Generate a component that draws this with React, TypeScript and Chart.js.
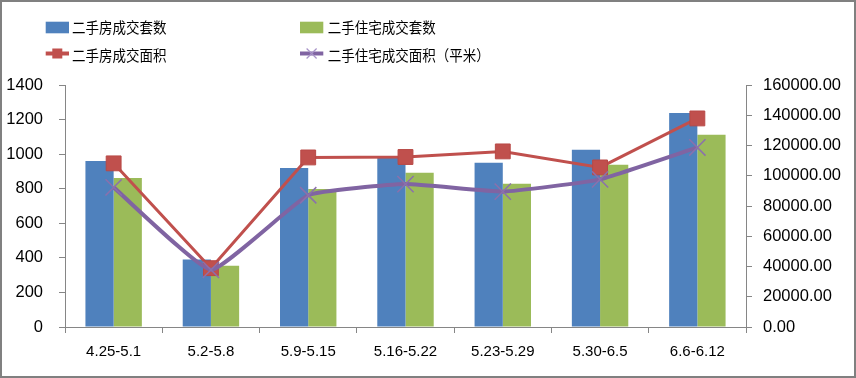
import { useEffect, useRef } from "react";
import { Chart, registerables } from "chart.js";

Chart.register(...registerables);

const categories = ["4.25-5.1", "5.2-5.8", "5.9-5.15", "5.16-5.22", "5.23-5.29", "5.30-6.5", "6.6-6.12"];
const houseCount = [960, 390, 920, 977, 950, 1025, 1238];
const residentialCount = [862, 355, 798, 892, 829, 939, 1112];
const houseArea = [108200, 38900, 112100, 112400, 116100, 105500, 137900];
const residentialArea = [92300, 37800, 87100, 94500, 89500, 97600, 118700];
const seriesNames = ["二手房成交套数", "二手住宅成交套数", "二手房成交面积", "二手住宅成交面积（平米）"];
const leftAxis = { min: 0, max: 1400, step: 200 };
const rightAxis = { min: 0, max: 160000, step: 20000 };

const BLUE = "#4F81BD";
const GREEN = "#9BBB59";
const RED = "#C0504D";
const PURPLE = "#8064A2";
const AXIS = "#868686";

const legendPlugin = {
  id: "gridLegend",
  afterDraw(chart: any) {
    const ctx = chart.ctx as CanvasRenderingContext2D;
    const ds = chart.data.datasets;
    const cols = [43.7, 298];
    const textCols = [70, 325.7];
    const rows = [25.5, 53.5];
    const drawLabel = (text: string, x: number, y: number) => {
      ctx.save();
      ctx.translate(x, y);
      ctx.scale(0.9, 1);
      ctx.fillStyle = "#000";
      ctx.font = '15px "Noto Sans CJK SC"';
      ctx.textBaseline = "middle";
      ctx.fillText(text, 0, 0);
      ctx.restore();
    };
    ctx.save();
    for (let i = 0; i < 2; i++) {
      ctx.fillStyle = ds[i].backgroundColor;
      ctx.fillRect(cols[i], rows[0] - 5.8, 23.3, 11.6);
      drawLabel(ds[i].label, textCols[i], rows[0]);
    }
    const ly = 51.5;
    ctx.strokeStyle = ds[2].borderColor;
    ctx.lineWidth = 4;
    ctx.beginPath();
    ctx.moveTo(cols[0], ly);
    ctx.lineTo(cols[0] + 23.3, ly);
    ctx.stroke();
    ctx.fillStyle = ds[2].borderColor;
    ctx.fillRect(cols[0] + 11.6 - 5, ly - 5, 10, 10);
    ctx.strokeStyle = ds[3].borderColor;
    ctx.lineWidth = 4;
    ctx.beginPath();
    ctx.moveTo(cols[1], ly);
    ctx.lineTo(cols[1] + 23.3, ly);
    ctx.stroke();
    ctx.strokeStyle = "#A894C8";
    ctx.lineWidth = 1.2;
    const cx = cols[1] + 11.6;
    ctx.beginPath();
    ctx.moveTo(cx - 5, ly - 5);
    ctx.lineTo(cx + 5, ly + 5);
    ctx.moveTo(cx + 5, ly - 5);
    ctx.lineTo(cx - 5, ly + 5);
    ctx.stroke();
    for (let i = 2; i < 4; i++) {
      drawLabel(ds[i].label, textCols[i - 2], rows[1]);
    }
    ctx.restore();
  },
};

export default function App() {
  const ref = useRef<HTMLCanvasElement | null>(null);
  useEffect(() => {
    document.body.style.margin = "0";
    const canvas = ref.current;
    if (!canvas) return;
    const chart = new Chart(canvas, {
      type: "bar",
      data: {
        labels: categories,
        datasets: [
          {
            type: "bar",
            label: seriesNames[0],
            data: houseCount,
            backgroundColor: BLUE,
            yAxisID: "y",
            order: 3,
            categoryPercentage: 0.58,
            barPercentage: 1.0,
          },
          {
            type: "bar",
            label: seriesNames[1],
            data: residentialCount,
            backgroundColor: GREEN,
            yAxisID: "y",
            order: 3,
            categoryPercentage: 0.58,
            barPercentage: 1.0,
          },
          {
            type: "line",
            label: seriesNames[2],
            data: houseArea,
            borderColor: RED,
            backgroundColor: RED,
            borderWidth: 3,
            pointStyle: "rect",
            pointRadius: 10.5,
            pointBorderWidth: 1,
            pointBackgroundColor: RED,
            pointBorderColor: "#B84946",
            tension: 0,
            yAxisID: "y1",
            order: 2,
          },
          {
            type: "line",
            label: seriesNames[3],
            data: residentialArea,
            borderColor: PURPLE,
            backgroundColor: PURPLE,
            borderWidth: 4,
            pointStyle: "crossRot",
            pointRadius: 11.5,
            pointBorderWidth: 1.5,
            pointBorderColor: "#8B70AC",
            tension: 0.12,
            yAxisID: "y1",
            order: 1,
          },
        ] as any,
      },
      options: {
        responsive: false,
        animation: false,
        devicePixelRatio: 1,
        layout: { padding: { top: 83, left: 0, right: 0, bottom: 0 } },
        plugins: {
          legend: { display: false },
          tooltip: { enabled: false },
        },
        scales: {
          x: {
            grid: {
              display: true,
              drawOnChartArea: false,
              drawTicks: true,
              tickLength: 6,
              color: AXIS,
              offset: true,
            },
            border: { display: true, color: AXIS, width: 1 },
            ticks: {
              color: "#000",
              padding: 10,
              font: { family: "Liberation Sans", size: 15 },
              maxRotation: 0,
              autoSkip: false,
            },
            afterFit: (s: any) => {
              s.height = 49;
            },
          },
          y: {
            position: "left",
            min: leftAxis.min,
            max: leftAxis.max,
            grid: {
              display: true,
              drawOnChartArea: false,
              drawTicks: true,
              tickLength: 6,
              color: AXIS,
            },
            border: { display: true, color: AXIS, width: 1 },
            ticks: {
              stepSize: leftAxis.step,
              color: "#000",
              padding: 16,
              font: { family: "Liberation Sans", size: 16.5 },
              callback: (v: any) => String(v),
            },
            afterFit: (s: any) => {
              s.width = 63;
            },
          },
          y1: {
            position: "right",
            min: rightAxis.min,
            max: rightAxis.max,
            grid: {
              display: true,
              drawOnChartArea: false,
              drawTicks: true,
              tickLength: 6,
              color: AXIS,
            },
            border: { display: true, color: AXIS, width: 1 },
            ticks: {
              stepSize: rightAxis.step,
              color: "#000",
              padding: 11,
              font: { family: "Liberation Sans", size: 16.5 },
              callback: (v: any) => Number(v).toFixed(2),
            },
            afterFit: (s: any) => {
              s.width = 108;
            },
          },
        },
      },
      plugins: [legendPlugin],
    });
    return () => chart.destroy();
  }, []);

  return (
    <div
      style={{
        position: "absolute",
        left: 0,
        top: 0,
        width: 856,
        height: 378,
        border: "2px solid #808080",
        boxSizing: "border-box",
        background: "#fff",
      }}
    >
      <canvas ref={ref} width={852} height={374} style={{ display: "block", width: 852, height: 374 }} />
    </div>
  );
}
